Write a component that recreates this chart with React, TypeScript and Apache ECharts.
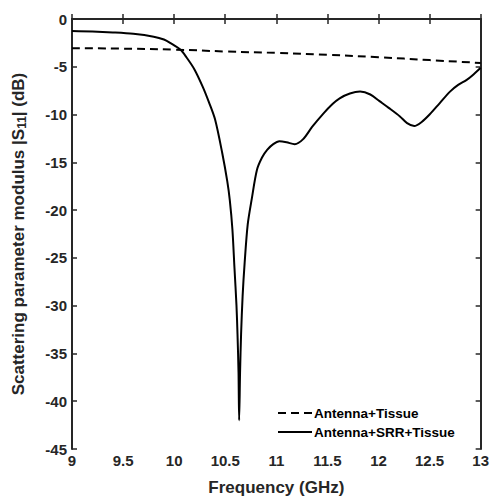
import React, { useEffect, useRef } from "react";
import * as echarts from "echarts";

// Frequency (GHz) and |S11| (dB)
const tissueFreq = [9.0, 9.5, 10.0, 10.5, 11.0, 11.5, 12.0, 12.5, 13.0];
const tissueS11 = [-3.05, -3.1, -3.2, -3.4, -3.55, -3.75, -4.0, -4.3, -4.6];

const srrFreq = [
  9.0, 9.2, 9.4, 9.6, 9.8, 9.9, 9.96, 10.06, 10.12, 10.2, 10.28, 10.34, 10.4,
  10.47, 10.52, 10.545, 10.57, 10.59, 10.61, 10.62, 10.63, 10.636, 10.645,
  10.655, 10.67, 10.69, 10.72, 10.76, 10.81, 10.86, 10.91, 10.97, 11.03, 11.1,
  11.18, 11.26, 11.35, 11.46, 11.55, 11.62, 11.72, 11.82, 11.92, 12.01, 12.1,
  12.21, 12.28, 12.35, 12.42, 12.5, 12.6, 12.7, 12.78, 12.86, 12.93, 13.0,
];
const srrS11 = [
  -1.25, -1.3, -1.4, -1.55, -1.85, -2.15, -2.5, -3.2, -4.0, -5.3, -7.1, -8.7,
  -10.5, -14.0, -17.0, -19.0, -22.0, -26.0, -30.0, -33.0, -37.0, -42.0, -37.0,
  -33.0, -29.0, -25.5, -21.5, -18.8, -15.8, -14.5, -13.7, -13.1, -12.8, -12.9,
  -13.1, -12.6, -11.3, -9.9, -8.9, -8.3, -7.8, -7.6, -7.9, -8.6, -9.3, -10.2,
  -10.9, -11.2, -10.8, -10.0, -8.8, -7.6, -6.9, -6.4, -5.8, -5.1,
];

const xTicks = { min: 9, max: 13, interval: 0.5 };
const yTicks = { min: -45, max: 0, interval: 5 };

const seriesNames = ["Antenna+Tissue", "Antenna+SRR+Tissue"];

const FONT = "'Liberation Sans', Arial, sans-serif";
const AX = "#262626";

export default function App() {
  const ref = useRef<HTMLDivElement>(null);
  useEffect(() => {
    if (!ref.current) return;
    const chart = echarts.init(ref.current, undefined, { renderer: "svg" });
    const label = { color: AX, fontSize: 15, fontWeight: "bold", fontFamily: FONT };
    const title = { color: AX, fontSize: 17, fontWeight: "bold", fontFamily: FONT };
    const boxAxis = {
      axisLine: { show: true, lineStyle: { color: AX, width: 2 } },
      axisTick: { show: true, inside: true, length: 5, lineStyle: { color: AX, width: 1.5 } },
      splitLine: { show: false },
    };
    chart.setOption({
      animation: false,
      backgroundColor: "#fff",
      grid: { left: 72, right: 11, top: 19, bottom: 51, containLabel: false },
      legend: {
        left: 277,
        top: 406,
        padding: 0,
        orient: "vertical",
        itemWidth: 34,
        itemHeight: 12,
        itemGap: 5,
        data: seriesNames,
        itemStyle: { color: "transparent", borderColor: "transparent", borderWidth: 0 },
        textStyle: { color: "#000", fontSize: 13.5, fontWeight: "bold", fontFamily: FONT, padding: [0, 0, 0, -3] },
      },
      xAxis: [
        {
          type: "value",
          ...xTicks,
          position: "bottom",
          ...boxAxis,
          axisLabel: { ...label, margin: 4 },
          name: "Frequency (GHz)",
          nameLocation: "middle",
          nameGap: 30,
          nameTextStyle: { ...title },
        },
        {
          type: "value",
          ...xTicks,
          position: "top",
          ...boxAxis,
          axisLabel: { show: false },
        },
      ],
      yAxis: [
        {
          type: "value",
          ...yTicks,
          position: "left",
          ...boxAxis,
          axisLabel: { ...label, margin: 5 },
          name: "Scattering parameter modulus |S{s|11}| (dB)",
          nameLocation: "middle",
          nameGap: 44,
          nameTextStyle: {
            ...title,
            lineHeight: 20,
            rich: {
              s: { fontSize: 12, fontWeight: "bold", fontFamily: FONT, color: AX, verticalAlign: "bottom", lineHeight: 8 },
            },
          },
        },
        {
          type: "value",
          ...yTicks,
          position: "right",
          ...boxAxis,
          axisLabel: { show: false },
        },
      ],
      series: [
        {
          name: seriesNames[0],
          type: "line",
          symbol: "none",
          smooth: true,
          data: tissueFreq.map((f, i) => [f, tissueS11[i]]),
          lineStyle: { color: "#000", width: 2, type: [8, 5] },
          itemStyle: { color: "#000" },
        },
        {
          name: seriesNames[1],
          type: "line",
          symbol: "none",
          smooth: 0.3,
          data: srrFreq.map((f, i) => [f, srrS11[i]]),
          lineStyle: { color: "#000", width: 2 },
          itemStyle: { color: "#000" },
        },
      ],
    });
    return () => chart.dispose();
  }, []);
  return (
    <div
      ref={ref}
      style={{ position: "absolute", left: 0, top: 0, width: 492, height: 501 }}
    />
  );
}
